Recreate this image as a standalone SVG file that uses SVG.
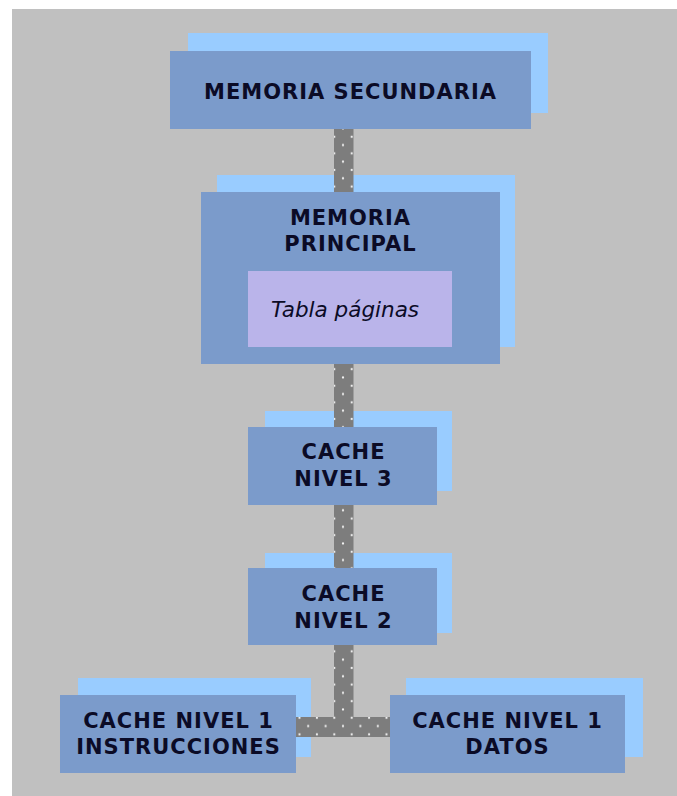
<svg xmlns="http://www.w3.org/2000/svg" width="677" height="796" viewBox="0 0 677 796">
<defs>
<style>
.sh{fill:#99ccff}
.bx{fill:#7b9bcb}
.in{fill:#bab4ea}
.t{font-family:"DejaVu Sans","Verdana",sans-serif;font-weight:bold;font-size:21px;letter-spacing:1px;fill:#0b0b26;text-anchor:middle}
.ti{font-family:"DejaVu Sans","Verdana",sans-serif;font-style:italic;font-size:21.5px;fill:#0b0b26;text-anchor:middle}
.cn{fill:url(#dots)}
</style>
<pattern id="dots" patternUnits="userSpaceOnUse" x="334.3" y="4" width="17.4" height="16.6">
<rect width="17.4" height="16.6" fill="#7d7d7d"/>
<circle cx="0" cy="0" r="1.1" fill="#f4f4f4"/>
<circle cx="17.4" cy="0" r="1.1" fill="#f4f4f4"/>
<circle cx="0" cy="16.6" r="1.1" fill="#f4f4f4"/>
<circle cx="17.4" cy="16.6" r="1.1" fill="#f4f4f4"/>
<circle cx="8.7" cy="8.3" r="1.1" fill="#f4f4f4"/>
</pattern>
</defs>
<rect x="0" y="0" width="677" height="796" fill="#ffffff"/>
<rect x="12" y="9" width="665" height="787" fill="#c0c0c0"/>

<g id="memoria-secundaria">
<rect class="sh" x="188" y="33" width="360" height="80"/>
<rect class="bx" x="170" y="51" width="361" height="78"/>
<text class="t" x="350.5" y="99">MEMORIA SECUNDARIA</text>
</g>

<g id="memoria-principal">
<rect class="sh" x="217" y="175" width="298" height="172"/>
<rect class="bx" x="201" y="192" width="299" height="172"/>
<text class="t" x="350.5" y="225">MEMORIA</text>
<text class="t" x="350.5" y="251">PRINCIPAL</text>
<g id="tabla-paginas">
<rect class="in" x="248" y="271" width="204" height="76"/>
<text class="ti" x="345" y="317">Tabla páginas</text>
</g>
</g>

<g id="cache-nivel-3">
<rect class="sh" x="265" y="411" width="187" height="80"/>
<rect class="bx" x="248" y="427" width="189" height="78"/>
<text class="t" x="343.5" y="459">CACHE</text>
<text class="t" x="343.5" y="486">NIVEL 3</text>
</g>

<g id="cache-nivel-2">
<rect class="sh" x="265" y="553" width="187" height="80"/>
<rect class="bx" x="248" y="568" width="189" height="77"/>
<text class="t" x="343.5" y="601">CACHE</text>
<text class="t" x="343.5" y="628">NIVEL 2</text>
</g>

<g id="cache-nivel-1-instrucciones">
<rect class="sh" x="78" y="678" width="233" height="79"/>
<rect class="bx" x="60" y="695" width="236" height="78"/>
<text class="t" x="178.5" y="728">CACHE NIVEL 1</text>
<text class="t" x="178.5" y="754">INSTRUCCIONES</text>
</g>

<g id="cache-nivel-1-datos">
<rect class="sh" x="406" y="678" width="237" height="79"/>
<rect class="bx" x="390" y="695" width="235" height="78"/>
<text class="t" x="507.5" y="728">CACHE NIVEL 1</text>
<text class="t" x="507.5" y="754">DATOS</text>
</g>

<g id="connectors">
<rect class="cn" x="334" y="129" width="19.5" height="63"/>
<rect class="cn" x="334" y="364" width="19.5" height="63"/>
<rect class="cn" x="334" y="505" width="19.5" height="63"/>
<rect class="cn" x="334" y="645" width="19.5" height="73"/>
<rect class="cn" x="296" y="717" width="94" height="20"/>
</g>
</svg>
